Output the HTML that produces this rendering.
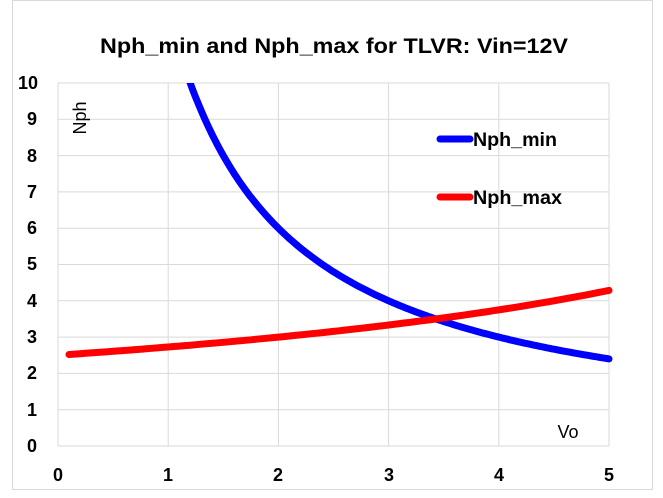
<!DOCTYPE html>
<html><head><style>body{margin:0;background:#fff}svg{display:block}text{font-family:"Liberation Sans",sans-serif}</style></head><body>
<svg width="663" height="498" xmlns="http://www.w3.org/2000/svg">
<rect x="12.5" y="0.5" width="640" height="489" fill="#fff" stroke="#d9d9d9"/>
<text x="100" y="53" font-size="21" font-weight="bold" fill="#000" textLength="468" lengthAdjust="spacingAndGlyphs">Nph_min and Nph_max for TLVR: Vin=12V</text>
<g stroke="#d9d9d9" stroke-width="1">
<line x1="58" y1="446" x2="609" y2="446"/><line x1="58" y1="409.7" x2="609" y2="409.7"/><line x1="58" y1="373.4" x2="609" y2="373.4"/><line x1="58" y1="337.1" x2="609" y2="337.1"/><line x1="58" y1="300.8" x2="609" y2="300.8"/><line x1="58" y1="264.5" x2="609" y2="264.5"/><line x1="58" y1="228.2" x2="609" y2="228.2"/><line x1="58" y1="191.9" x2="609" y2="191.9"/><line x1="58" y1="155.6" x2="609" y2="155.6"/><line x1="58" y1="119.3" x2="609" y2="119.3"/><line x1="58" y1="83" x2="609" y2="83"/>
<line x1="58" y1="83" x2="58" y2="446"/><line x1="168.2" y1="83" x2="168.2" y2="446"/><line x1="278.4" y1="83" x2="278.4" y2="446"/><line x1="388.6" y1="83" x2="388.6" y2="446"/><line x1="498.8" y1="83" x2="498.8" y2="446"/><line x1="609" y1="83" x2="609" y2="446"/>
</g>
<g font-size="18" font-weight="bold" text-anchor="end" fill="#000">
<text x="37" y="452">0</text><text x="37" y="416">1</text><text x="37" y="379">2</text><text x="37" y="343">3</text><text x="37" y="307">4</text><text x="37" y="270">5</text><text x="37" y="234">6</text><text x="37" y="198">7</text><text x="37" y="162">8</text><text x="37" y="125">9</text><text x="38" y="89">10</text>
</g>
<g font-size="18" font-weight="bold" text-anchor="middle" fill="#000">
<text x="58" y="481">0</text><text x="168" y="481">1</text><text x="278" y="481">2</text><text x="389" y="481">3</text><text x="499" y="481">4</text><text x="609" y="481">5</text>
</g>
<text transform="translate(86,118) rotate(-90)" font-size="18" text-anchor="middle" fill="#000">Nph</text>
<text x="568" y="438" font-size="18" text-anchor="middle" fill="#000">Vo</text>
<defs><clipPath id="c"><rect x="58" y="83" width="560" height="363"/></clipPath></defs>
<g clip-path="url(#c)" fill="none" stroke-width="7" stroke-linecap="round">
<polyline id="mn" stroke="#0000ff" points=""/>
<polyline id="mx" stroke="#ff0000" points=""/>
</g>
<line x1="440" y1="139" x2="470" y2="139" stroke="#0000ff" stroke-width="7" stroke-linecap="round"/>
<text x="473" y="146" font-size="19" font-weight="bold" fill="#000" textLength="84" lengthAdjust="spacingAndGlyphs">Nph_min</text>
<line x1="440" y1="197" x2="470" y2="197" stroke="#ff0000" stroke-width="7" stroke-linecap="round"/>
<text x="473" y="204" font-size="19" font-weight="bold" fill="#000" textLength="89" lengthAdjust="spacingAndGlyphs">Nph_max</text>
<script>
function X(v){return 58+v*110.2}function Y(n){return 446-n*36.3}
var a=[],b=[];
for(var v=1.1;v<=5.0001;v+=0.02){a.push(X(v).toFixed(1)+","+Y(12/v).toFixed(1));}
for(var v=0.1;v<=5.0001;v+=0.05){b.push(X(v).toFixed(1)+","+Y(30/(12-v)).toFixed(1));}
document.getElementById("mn").setAttribute("points",a.join(" "));
document.getElementById("mx").setAttribute("points",b.join(" "));
</script>
</svg>
</body></html>
